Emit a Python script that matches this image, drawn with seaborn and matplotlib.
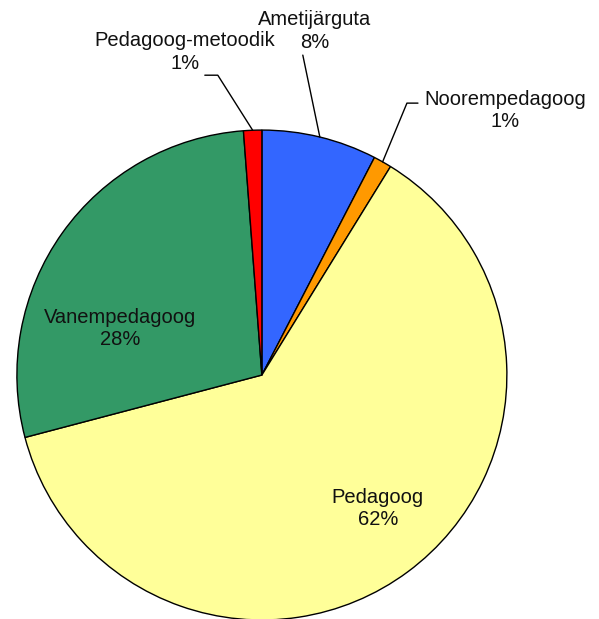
import matplotlib
matplotlib.use('Agg')
import matplotlib.pyplot as plt
import seaborn as sns
import numpy as np

# Data (clockwise from 12 o'clock)
categories = ['Ametijärguta', 'Noorempedagoog', 'Pedagoog', 'Vanempedagoog', 'Pedagoog-metoodik']
shares = [7.6, 1.2, 62.1, 27.9, 1.2]
colors = ['#3366FF', '#FF9900', '#FFFF99', '#339966', '#FF0000']

# label placement (data coords, pie radius = 1) and leader-line elbows
label_pos = [(0.216, 1.405), (0.992, 1.080), (0.473, -0.545), (-0.580, 0.190), (-0.314, 1.318)]
elbows = [None, [(0.592, 1.110), (0.637, 1.110)], None, None, [(-0.180, 1.224), (-0.233, 1.224)]]
leader_end = [(0.167, 1.306), None, None, None, None]

sns.set_style('white')
plt.rcParams['font.family'] = ['Liberation Sans', 'DejaVu Sans']

fig = plt.figure(figsize=(5.99, 6.19), dpi=100)
ax = fig.add_axes([0, 0, 1, 1])

wedges, _ = ax.pie(shares, colors=colors, startangle=90, counterclock=False,
                   wedgeprops=dict(edgecolor='black', linewidth=1.0))

for i, w in enumerate(wedges):
    theta = np.deg2rad((w.theta1 + w.theta2) / 2)
    edge = (np.cos(theta), np.sin(theta))
    pts = None
    if elbows[i] is not None:
        pts = [edge] + elbows[i]
    elif leader_end[i] is not None:
        pts = [edge, leader_end[i]]
    if pts is not None:
        xs, ys = zip(*pts)
        ax.plot(xs, ys, color='black', lw=1.0)
    pct = f'{round(shares[i]):d}%'
    ax.text(label_pos[i][0], label_pos[i][1], f'{categories[i]}\n{pct}',
            ha='center', va='center', fontsize=14.5, color='#111111', linespacing=1.25)

ax.set_xlim(-1.069, 1.376)
ax.set_ylim(-0.996, 1.531)
ax.set_aspect('equal', adjustable='datalim')
ax.axis('off')

fig.savefig('out.png', dpi=100)
